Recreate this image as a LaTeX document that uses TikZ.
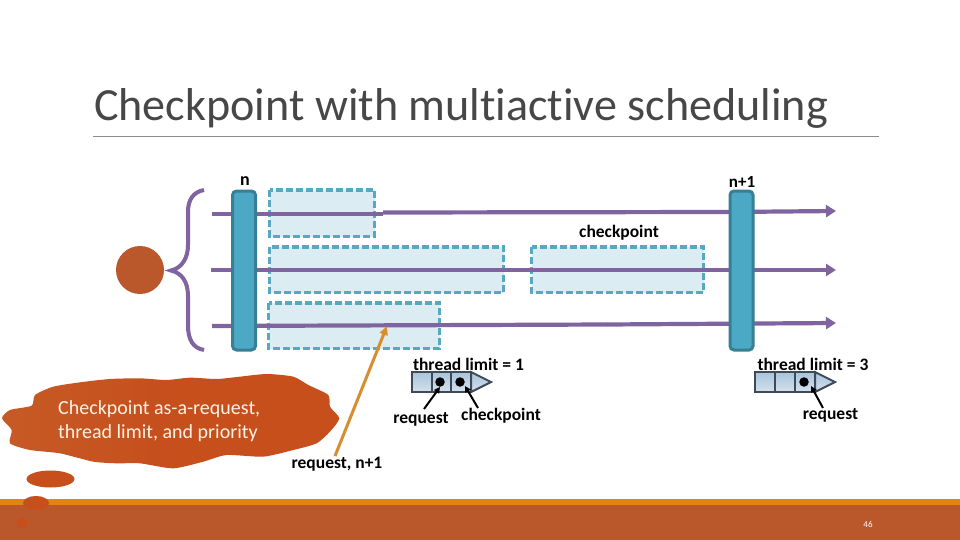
\documentclass[tikz,border=0pt]{standalone}
\usepackage{fontspec}
\setmainfont{Carlito}[Ligatures=NoCommon]
\usetikzlibrary{arrows.meta,shapes.geometric}
\definecolor{rust}{HTML}{BB582B}
\definecolor{bandor}{HTML}{E48312}
\definecolor{purp}{HTML}{7F64A0}
\definecolor{barfill}{HTML}{4BA9C6}
\definecolor{bardraw}{HTML}{367F95}
\definecolor{boxfill}{HTML}{DBECF3}
\definecolor{boxdash}{HTML}{57A9C2}
\definecolor{cloudc}{HTML}{C64F1C}
\definecolor{cloudl}{HTML}{C65A26}
\definecolor{arrowor}{HTML}{D88D2E}
\definecolor{qdraw}{HTML}{3F4A57}
\definecolor{qtop}{HTML}{A9C4DC}
\definecolor{qbot}{HTML}{D3E1EC}
\tikzset{
  x=1pt,y=-1pt,
  lbl/.style={inner sep=0pt,text=black,font=\fontsize{17.5}{20}\selectfont\bfseries},
  barnode/.style={draw=bardraw,fill=barfill,line width=3pt,rounded corners=4pt,minimum width=23pt,minimum height=159pt,inner sep=0pt},
  dashbox/.style={draw=boxdash,fill=boxfill,line width=3.6pt,dash pattern=on 7pt off 3pt,inner sep=0pt},
  thread/.style={draw=purp,line width=4.2pt},
  threadtip/.style={thread,-{Triangle[length=10pt,width=12pt]}},
  cell/.style={draw=qdraw,top color=qtop,bottom color=qbot,line width=2pt,minimum width=20pt,minimum height=20pt,inner sep=0pt},
  qdot/.style={circle,fill=black,minimum size=9.5pt,inner sep=0pt},
  ptr/.style={draw=black,line width=2pt,-{Triangle[length=6pt,width=6pt]}},
  cloudpart/.style={fill=cloudc,draw=none},
}
\begin{document}
\begin{tikzpicture}
\useasboundingbox (0,0) rectangle (960,540);
\fill[white] (0,0) rectangle (960,540);
% footer
\fill[rust] (0,504) rectangle (960,540);
\fill[bandor] (0,499) rectangle (960,504.5);
% title
\node[anchor=west,inner sep=0pt,text=black!72,font=\fontsize{46.1}{50}\selectfont] (title) at (94,108.5) {Checkpoint with multiactive scheduling};
\coordinate (ruleL) at (93,136.5); \coordinate (ruleR) at (879,136.5);
\draw[black!45,line width=0.8pt] (ruleL) -- (ruleR);
% boxes
\path[dashbox] (269.5,190) rectangle (374.5,236.500);
\path[dashbox] (269.5,247) rectangle (503.5,292.500);
\path[dashbox] (268.5,303) rectangle (439.5,348.500);
\path[dashbox] (531.5,247) rectangle (703.5,292.500);
% threads
\coordinate (a0) at (212,214); \coordinate (a1) at (383,214); \coordinate (a2) at (383,212.5); \coordinate (a3) at (729,212); \coordinate (a4) at (836,211);
\coordinate (b0) at (211,270); \coordinate (b4) at (836,270);
\coordinate (c0) at (212,326); \coordinate (c1) at (607,324.5); \coordinate (c4) at (836,323);
\draw[thread] (a0) -- (a1);
\draw[thread] (a2) -- (a3);
\draw[threadtip] (a3) -- (a4);
\draw[threadtip] (b0) -- (b4);
\draw[thread] (c0) -- (c1);
\draw[threadtip] (c1) -- (c4);
% bars
\node[barnode] (barn) at (244,270.5) {};
\node[barnode] (barm) at (741.5,270.5) {};
\node[lbl,font=\fontsize{18}{20}\selectfont\bfseries] (ln) at (245,181) {n};
\node[lbl,font=\fontsize{17}{20}\selectfont\bfseries] (lm) at (742,181.5) {n+1};
\node[lbl] (lc) at (619,233) {checkpoint};
% brace and circle
\draw[purp,line width=4pt] (204,190) .. controls (193,192) and (188,200) .. (188,212) -- (188,245) .. controls (188,258) and (182,268) .. (171,270.5) .. controls (182,273) and (188,282) .. (188,296) -- (188,325) .. controls (188,340) and (193,348) .. (204,350);
\node[circle,fill=rust,minimum size=48pt,inner sep=0pt] (core) at (140,270) {};
% orange arrow
\coordinate (o0) at (335,456); \coordinate (o1) at (387,326);
\draw[arrowor,line width=3pt,-{Triangle[length=9pt,width=8pt]}] (o0) -- (o1);
% queue left
\node[cell] (q1) at (422,382) {};
\node[cell] (q2) at (442,382) {};
\node[cell] (q3) at (461,382) {};
\path[draw=qdraw,top color=qtop,bottom color=qbot,line width=2pt] (471,372) -- (491,382) -- (471,392) -- cycle;
\node[qdot] (d1) at (440,382) {};
\node[qdot] (d2) at (460,382) {};
\node[lbl] (tl1) at (468.500,364.500) {thread limit = 1};
\node[lbl] (rq1) at (421,419.500) {request};
\node[lbl] (cp1) at (501,415.500) {checkpoint};
\coordinate (p1) at (424,409); \coordinate (p1e) at (440,387);
\coordinate (p2) at (478,408); \coordinate (p2e) at (465,386);
\draw[ptr] (p1) -- (p1e);
\draw[ptr] (p2) -- (p2e);
% queue right
\node[cell] (r1) at (765,382) {};
\node[cell] (r2) at (785,382) {};
\node[cell] (r3) at (805,382) {};
\path[draw=qdraw,top color=qtop,bottom color=qbot,line width=2pt] (815,372) -- (835,382) -- (815,392) -- cycle;
\node[qdot] (d3) at (804,382) {};
\node[lbl] (tl3) at (813,364.500) {thread limit = 3};
\node[lbl] (rq3) at (830.500,415.500) {request};
\coordinate (p3) at (823,408); \coordinate (p3e) at (811,386);
\draw[ptr] (p3) -- (p3e);
\node[lbl] (rqn) at (337,464.500) {request, n+1};
% cloud
\begin{scope}[shift={(0,365)},x=0.3333pt,y=-0.3333pt]
\shade[left color=cloudl,right color=cloudc,middle color=cloudc] plot[smooth cycle,tension=0.4] coordinates {(6,160) (30,135) (95,122) (105,90) (160,65) (240,52) (330,42) (420,40) (500,45) (570,38) (650,42) (720,35) (800,27) (880,35) (925,60) (985,90) (990,125) (1018,160) (990,200) (950,235) (880,255) (790,275) (680,270) (610,290) (520,310) (420,295) (350,295) (280,290) (180,265) (90,255) (30,235) (35,195)};
\end{scope}
\node[cloudpart,ellipse,minimum width=48pt,minimum height=17pt,inner sep=0pt] (t1) at (50.500,479) {};
\node[cloudpart,ellipse,minimum width=26pt,minimum height=14pt,inner sep=0pt] (t2) at (36,503) {};
\node[circle,fill=cloudc,minimum size=11pt,inner sep=0pt] (t3) at (22,523) {};
\node[inner sep=0pt,align=left,anchor=west,text=white!90!orange,font=\fontsize{20}{24}\selectfont] (cl) at (58,421.5) {Checkpoint as-a-request,\\thread limit, and priority};
\node[inner sep=0pt,text=white,font=\fontsize{9}{10}\selectfont] (pg) at (868,524) {46};
\end{tikzpicture}
\end{document}
